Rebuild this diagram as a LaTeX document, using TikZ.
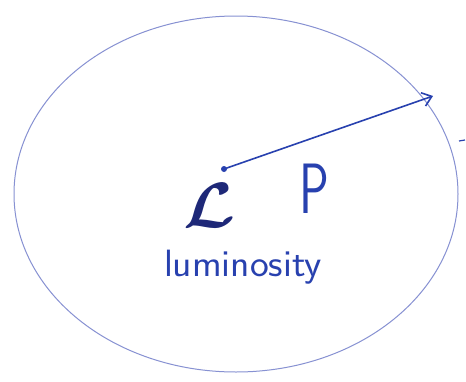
\documentclass[tikz,border=0pt]{standalone}
\usepackage{amsmath}
\usepackage{graphicx}
\usetikzlibrary{arrows.meta}
\definecolor{rim}{RGB}{135,145,210}
\definecolor{ink}{RGB}{40,65,175}
\definecolor{inkdark}{RGB}{30,40,120}
\tikzset{
  rimline/.style={draw=rim, line width=1pt},
  inkarrow/.style={draw=ink, line width=1.6pt, -{Straight Barb[length=9pt,width=14pt,line width=1.6pt]}},
  lbl/.style={text=ink, inner sep=0pt}
}
\begin{document}
\begin{tikzpicture}[x=1pt,y=-1pt]
\useasboundingbox (0,0) rectangle (466,381);
\fill[white] (0,0) rectangle (466,381);
% boundary
\draw[rimline] (236,194) ellipse [x radius=222, y radius=178];
% labels
\node[lbl, text=inkdark] (L) at (210,206) {\scalebox{6.6}[6.4]{$\boldsymbol{\mathcal{L}}$}};
\node[lbl] (P) at (314,189) {\scalebox{0.8}[1.15]{\fontsize{62}{62}\selectfont\sffamily P}};
\node[lbl] (lum) at (243,267) {\scalebox{1.05}[1]{\fontsize{38}{38}\selectfont\sffamily luminosity}};
% arrow
\coordinate (tail) at (224,169);
\coordinate (tip) at (433,96);
\fill[ink] (tail) circle (3pt);
\draw[inkarrow] (tail) -- (tip);
% small tick at the right edge
\coordinate (t1) at (459,141);
\coordinate (t2) at (465,140);
\draw[ink, line width=1.2pt] (t1) -- (t2);
\end{tikzpicture}
\end{document}
